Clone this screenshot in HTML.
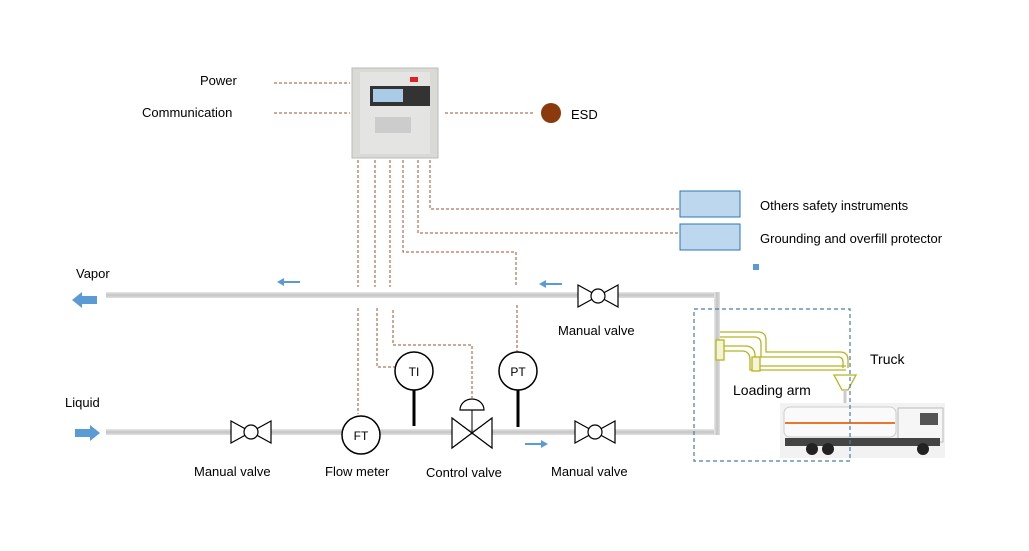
<!DOCTYPE html>
<html><head><style>
body{margin:0;background:#fff;}
svg text{font-family:"Liberation Sans",sans-serif;}
</style></head><body>
<svg width="1029" height="546" viewBox="0 0 1029 546" xmlns="http://www.w3.org/2000/svg">
<defs>
<linearGradient id="pg" x1="0" y1="0" x2="0" y2="1"><stop offset="0" stop-color="#e8e8e8"/><stop offset="0.5" stop-color="#c4c4c4"/><stop offset="1" stop-color="#e0e0e0"/></linearGradient>
<linearGradient id="pgv" x1="0" y1="0" x2="1" y2="0"><stop offset="0" stop-color="#e8e8e8"/><stop offset="0.5" stop-color="#c4c4c4"/><stop offset="1" stop-color="#e0e0e0"/></linearGradient>
</defs>
<rect x="106" y="292" width="614" height="6" fill="url(#pg)"/>
<rect x="106" y="429" width="614" height="6" fill="url(#pg)"/>
<rect x="714" y="292" width="6" height="143" fill="url(#pgv)"/>
<g stroke="#a0522d" stroke-width="1" stroke-dasharray="3,2" fill="none">
<path d="M274 83H350M274 113H350M445 113H535"/>
<path d="M358 160V287M358 308V414"/>
<path d="M375 160V287M377 308V367H395"/>
<path d="M390 160V287M393 310V345H472V398"/>
<path d="M403 160V252H516V287M517 305V352"/>
<path d="M418 160V233H680"/>
<path d="M430 160V209H680"/>
</g>
<rect x="352" y="68" width="86" height="90" fill="#d9d9d6" stroke="#bbb"/>
<rect x="360" y="72" width="70" height="82" fill="#e4e4e2"/>
<rect x="370" y="86" width="60" height="20" fill="#333"/>
<rect x="373" y="89" width="30" height="13" fill="#aacbe6"/>
<rect x="410" y="77" width="8" height="5" fill="#d22"/>
<rect x="375" y="117" width="36" height="16" fill="#ccc"/>
<circle cx="551" cy="113" r="10" fill="#8b3a0e"/>
<text x="571" y="119" font-size="13">ESD</text>
<text x="200" y="85" font-size="13">Power</text>
<text x="142" y="117" font-size="13">Communication</text>
<rect x="680" y="191" width="60" height="26" fill="#bdd7ee" stroke="#2e75b6"/>
<rect x="680" y="224" width="60" height="26" fill="#bdd7ee" stroke="#2e75b6"/>
<text x="760" y="210" font-size="13">Others safety instruments</text>
<text x="760" y="243" font-size="13">Grounding and overfill protector</text>
<rect x="753" y="264" width="6" height="6" fill="#5b9bd5"/>
<g fill="#5b9bd5">
<polygon points="72,300 82,292 82,296 97,296 97,304 82,304 82,308"/>
<polygon points="100,433 90,425 90,429 75,429 75,437 90,437 90,441"/>
<polygon points="277,282 284,278 284,281 300,281 300,283 284,283 284,286"/>
<polygon points="539,284 546,280 546,283 562,283 562,285 546,285 546,288"/>
<polygon points="548,444 541,440 541,443 525,443 525,445 541,445 541,448"/>
</g>
<text x="76" y="278" font-size="13">Vapor</text>
<text x="65" y="407" font-size="13">Liquid</text>
<g stroke="#000" stroke-width="1.2" fill="#fff">
<polygon points="578,285 578,307 618,285 618,307"/><circle cx="598" cy="296" r="7"/>
<polygon points="231,421 231,443 271,421 271,443"/><circle cx="251" cy="432" r="7"/>
<polygon points="575,421 575,443 615,421 615,443"/><circle cx="595" cy="432" r="7"/>
</g>
<text x="558" y="335" font-size="13">Manual valve</text>
<text x="194" y="476" font-size="13">Manual valve</text>
<text x="551" y="476" font-size="13">Manual valve</text>
<g stroke="#000" fill="#fff">
<line x1="414" y1="390" x2="414" y2="426" stroke-width="3"/>
<line x1="518" y1="390" x2="518" y2="427" stroke-width="3"/>
<circle cx="361" cy="435" r="19" stroke-width="1.5"/>
<circle cx="414" cy="371" r="19" stroke-width="1.5"/>
<circle cx="518" cy="371" r="19" stroke-width="1.5"/>
<polygon points="452,418 452,448 492,418 492,448" stroke-width="1.2"/>
<line x1="472" y1="433" x2="472" y2="410"/>
<path d="M460 410A12 11 0 0 1 484 410Z" stroke-width="1.2"/>
</g>
<text x="361" y="440" font-size="12" text-anchor="middle">FT</text>
<text x="414" y="376" font-size="12" text-anchor="middle">TI</text>
<text x="518" y="376" font-size="12" text-anchor="middle">PT</text>
<text x="325" y="476" font-size="13">Flow meter</text>
<text x="426" y="477" font-size="13">Control valve</text>
<!-- loading arm -->
<g stroke="#b5b520" stroke-width="1.3" fill="none">
<path d="M720 332H758Q766 332 766 340V352H840Q848 352 848 360V368"/>
<path d="M720 337H754Q761 337 761 344V357H838Q843 357 843 362V368"/>
<path d="M722 346H745Q755 346 755 356V366H846"/>
<path d="M722 351H742Q750 351 750 360V370H846"/>
<rect x="716" y="340" width="8" height="20" fill="#f4f4d8"/>
<rect x="752" y="357" width="8" height="14" fill="#f4f4d8"/>
<path d="M834 375H856L848 390H842Z" fill="#fff"/>
</g>
<line x1="845" y1="390" x2="845" y2="405" stroke="#ccc" stroke-width="3"/>
<text x="870" y="364" font-size="14">Truck</text>
<text x="733" y="395" font-size="14">Loading arm</text>
<rect x="780" y="403" width="165" height="55" fill="#f2f2f2"/>
<rect x="784" y="407" width="112" height="30" rx="6" fill="#fafafa" stroke="#ccc"/>
<line x1="785" y1="423" x2="895" y2="423" stroke="#e8772e" stroke-width="2"/>
<rect x="898" y="408" width="45" height="34" fill="#f6f6f6" stroke="#bbb"/>
<rect x="920" y="413" width="18" height="12" fill="#555"/>
<rect x="785" y="438" width="155" height="8" fill="#444"/>
<circle cx="812" cy="449" r="6" fill="#222"/><circle cx="828" cy="449" r="6" fill="#222"/><circle cx="923" cy="449" r="6" fill="#222"/>
<rect x="694" y="309" width="156" height="152" fill="none" stroke="#4a7ab0" stroke-dasharray="4,3" stroke-width="1.2"/>
</svg>
</body></html>
